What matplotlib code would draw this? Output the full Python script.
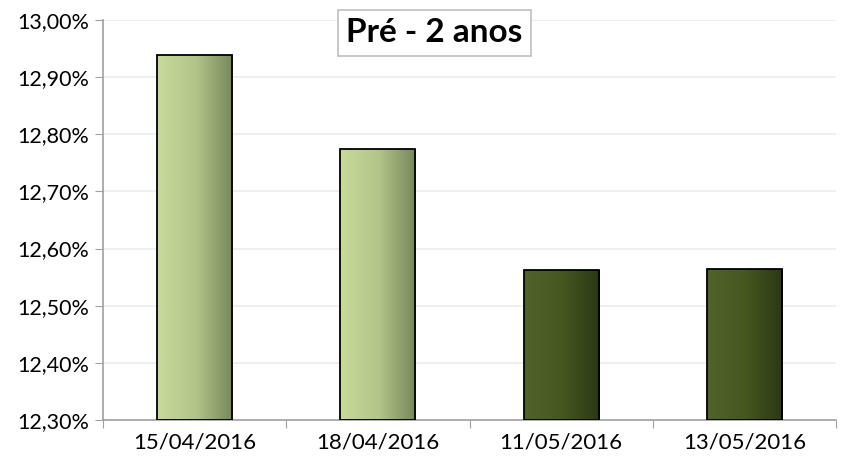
import numpy as np
import matplotlib
matplotlib.use('Agg')
import matplotlib.pyplot as plt
from matplotlib.colors import LinearSegmentedColormap
from matplotlib.ticker import FuncFormatter, MultipleLocator

categories = ['15/04/2016', '18/04/2016', '11/05/2016', '13/05/2016']
values = [12.939, 12.774, 12.562, 12.564]
title = 'Pré - 2 anos'

light = LinearSegmentedColormap.from_list('light', ['#c8db9c', '#b3c68a', '#76885a'])
dark = LinearSegmentedColormap.from_list('dark', ['#50632a', '#45581f', '#2b3815'])
bar_maps = [light, light, dark, dark]

plt.rcParams['font.family'] = ['Lato', 'DejaVu Sans']

fig = plt.figure(figsize=(8.48, 4.61), dpi=100)
ax = fig.add_axes([103 / 848, 41 / 461, 733 / 848, 400 / 461])

ymin, ymax = 12.30, 13.00
x = np.arange(len(categories))
width = 0.41
bars = ax.bar(x, [v - ymin for v in values], bottom=ymin, width=width,
              facecolor='none', edgecolor='black', linewidth=1.3, zorder=3)

grad = np.linspace(0, 1, 256).reshape(1, -1)
for b, cmap in zip(bars, bar_maps):
    x0, y0 = b.get_x(), b.get_y()
    im = ax.imshow(grad, cmap=cmap, aspect='auto', zorder=2,
                   extent=[x0, x0 + b.get_width(), y0, y0 + b.get_height()])
    im.set_clip_path(b)

ax.set_xlim(-0.5, len(categories) - 0.5)
ax.set_ylim(ymin, ymax)
ax.yaxis.set_major_locator(MultipleLocator(0.1))
ax.yaxis.set_major_formatter(FuncFormatter(lambda v, p: f'{v:.2f}%'.replace('.', ',')))
ax.grid(axis='y', color='#ececec', linewidth=1.2, zorder=0)

ax.set_xticks(np.arange(len(categories) + 1) - 0.5, minor=False)
ax.set_xticklabels([])
ax.set_xticks(x, minor=True)
ax.set_xticklabels(categories, minor=True)
ax.tick_params(axis='x', which='major', length=6, color='#a0a0a0', direction='out')
ax.tick_params(axis='x', which='minor', length=0, labelsize=16, pad=9)
ax.tick_params(axis='y', length=6, color='#a0a0a0', labelsize=15.5, pad=4)

for s in ['top', 'right']:
    ax.spines[s].set_visible(False)
for s in ['left', 'bottom']:
    ax.spines[s].set_color('#a0a0a0')
    ax.spines[s].set_linewidth(1.2)

ax.text(0.452, 0.968, title, transform=ax.transAxes, ha='center', va='center',
        fontsize=24, fontweight='bold',
        bbox=dict(boxstyle='square,pad=0.25', facecolor='white', edgecolor='#bfbfbf', linewidth=1.2),
        zorder=5)

fig.savefig('out.png', dpi=100)
